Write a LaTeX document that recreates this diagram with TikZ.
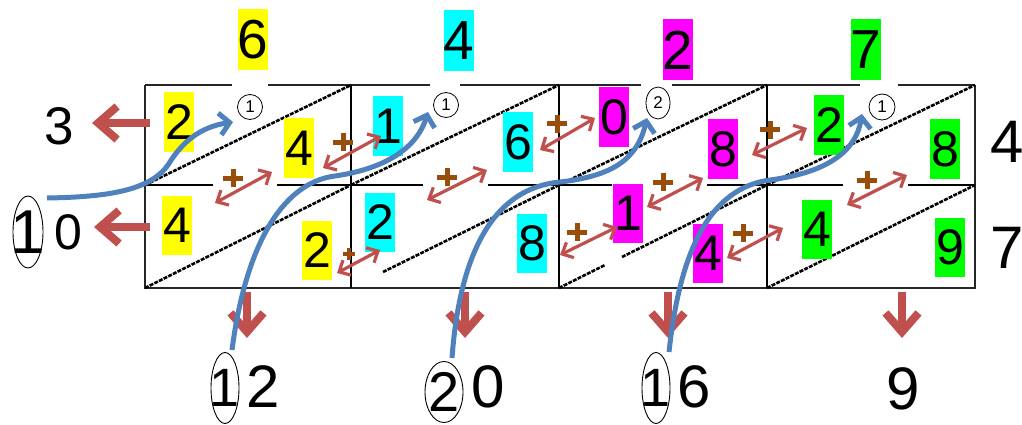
\documentclass[tikz,border=0pt]{standalone}
\usepackage{fontspec}
\setmainfont{Liberation Sans}
\usetikzlibrary{arrows.meta,shapes.geometric}
\definecolor{redc}{RGB}{192,80,77}
\definecolor{bluec}{RGB}{79,129,189}
\definecolor{plusc}{RGB}{153,77,10}
\definecolor{ylw}{RGB}{255,255,0}
\definecolor{cyn}{RGB}{0,255,255}
\definecolor{mgt}{RGB}{255,0,255}
\definecolor{grn}{RGB}{0,255,0}
\begin{document}
\begin{tikzpicture}[x=1pt,y=-1pt,
  cbox/.style={minimum width=30pt, minimum height=59pt, inner sep=0pt, font=\fontsize{50}{50}\selectfont},
  tbox/.style={cbox, minimum height=61pt, font=\fontsize{55}{55}\selectfont},
  lbl/.style={inner sep=0pt, font=\fontsize{53}{53}\selectfont},
  blbl/.style={inner sep=0pt, font=\fontsize{60}{60}\selectfont},
  edge/.style={line width=2.2pt, black!85},
  gridline/.style={line width=1.5pt},
  diag/.style={line width=2.6pt, dash pattern=on 4pt off 1.2pt},
  dbl/.style={redc, line width=3.2pt, {Straight Barb[length=9pt,width=17pt]}-{Straight Barb[length=9pt,width=17pt]}},
  plus/.style={plusc, line width=5pt},
  bigred/.style={redc, line width=8pt, -{Straight Barb[length=19pt,width=33pt]}},
  bluearr/.style={bluec, line width=5pt, -{Straight Barb[length=10pt,width=22pt]}},
  smallc/.style={draw, line width=0.8pt, fill=white, inner sep=0pt, font=\fontsize{17}{17}\selectfont},
  bigell/.style={draw, ellipse, line width=0.9pt, inner sep=0pt},
  ]
\useasboundingbox (0,0) rectangle (1022,425);
% grid
\draw[edge] (145,85) -- (145,288) -- (975,288) -- (975,85);
\foreach \a/\b in {145/232, 268/430, 460/641, 672/860, 898/975} \draw[edge] (\a,85) -- (\b,85);
\foreach \x in {351,559,767} \draw[gridline] (\x,85) -- (\x,288);
\foreach \a/\b in {145/213, 277/423, 488/612, 707/843, 908/975} \draw[gridline] (\a,185) -- (\b,185);
% diagonals
\draw[diag] (145,185) -- (351,85);
\draw[diag] (351,185) -- (559,85);
\draw[diag] (559,185) -- (767,85);
\draw[diag] (767,185) -- (975,85);
\draw[diag] (145,288) -- (351,185);
\draw[diag] (383,272) -- (559,185);
\draw[diag] (559,288) -- (605,265);
\draw[diag] (622,257) -- (767,185);
\draw[diag] (767,288) -- (975,185);
% top digits
\node[tbox, fill=ylw] (t1) at (253,40) {6};
\node[tbox, fill=cyn] (t2) at (459,41) {4};
\node[tbox, fill=mgt] (t3) at (678,50) {2};
\node[tbox, fill=grn] (t4) at (866,50) {7};
% cell digits
\node[cbox, fill=ylw] (a1) at (179,122) {2};
\node[cbox, fill=ylw] (a2) at (299,148) {4};
\node[cbox, fill=ylw] (a3) at (177,225) {4};
\node[cbox, fill=ylw] (a4) at (317,250) {2};
\node[cbox, fill=cyn] (b1) at (388,126) {1};
\node[cbox, fill=cyn] (b2) at (518,142) {6};
\node[cbox, fill=cyn] (b3) at (380,222) {2};
\node[cbox, fill=cyn] (b4) at (532,243) {8};
\node[cbox, fill=mgt] (c1) at (614,117) {0};
\node[cbox, fill=mgt] (c2) at (723,149) {8};
\node[cbox, fill=mgt] (c3) at (628,213) {1};
\node[cbox, fill=mgt] (c4) at (708,253) {4};
\node[cbox, fill=grn] (d1) at (829,125) {2};
\node[cbox, fill=grn] (d2) at (945,149) {8};
\node[cbox, fill=grn] (d3) at (817,229) {4};
\node[cbox, fill=grn] (d4) at (950,247) {9};
% small circled carries
\node[smallc, circle, minimum size=25pt] (k1) at (250,107) {1};
\node[smallc, circle, minimum size=25pt] (k2) at (446,105) {1};
\node[smallc, ellipse, minimum width=24pt, minimum height=32pt] (k3) at (658,103) {\makebox[0pt]{2}};
\node[smallc, circle, minimum size=26pt] (k4) at (882,107) {1};
% outside labels
\node[lbl] (l3) at (59,126) {3};
\node[bigell, minimum width=30pt, minimum height=72pt, font=\fontsize{62}{62}\selectfont] (e0) at (28,232) {\makebox[0pt]{1}};
\node[inner sep=0pt, font=\fontsize{50}{50}\selectfont] (l0) at (68,232) {0};
\node[blbl] (r4) at (1007,142) {4};
\node[blbl] (r7) at (1007,248) {7};
\node[bigell, minimum width=28pt, minimum height=71pt, font=\fontsize{54}{54}\selectfont] (e1) at (225,388) {\makebox[0pt]{1}};
\node[blbl] (n2) at (263,387) {2};
\node[bigell, minimum width=38pt, minimum height=61pt, font=\fontsize{56}{56}\selectfont] (e2) at (444,392) {\makebox[0pt]{2}};
\node[blbl] (n0) at (488,387) {0};
\node[bigell, minimum width=28pt, minimum height=71pt, font=\fontsize{54}{54}\selectfont] (e3) at (656,388) {\makebox[0pt]{1}};
\node[blbl] (n6) at (694,387) {6};
\node[blbl] (n9) at (903,389) {9};
% double arrows
\foreach \i/\ax/\ay/\bx/\by in {1/215/203/272/172, 2/323/168/381/136, 3/337/273/380/250, 4/427/200/487/170, 5/540/150/595/118, 6/560/255/617/227, 7/647/207/703/178, 8/752/155/807/128, 9/727/258/783/228, 10/847/205/907/175}{
  \coordinate (p\i a) at (\ax,\ay);
  \coordinate (p\i b) at (\bx,\by);
  \draw[dbl] (p\i a) -- (p\i b);
}
% plus signs
\foreach \px/\py in {233/178, 343/142, 447/177, 557/124, 577/232, 663/182, 770/130, 743/233, 867/180}
  \draw[plus] (\px-10,\py) -- (\px+10,\py) (\px,\py-9) -- (\px,\py+9);
\draw[plus, line width=3.5pt] (343,254) -- (355,254) (349,248) -- (349,260);
% red arrows
\coordinate (ra1) at (150,123); \coordinate (ra1e) at (92,123);
\coordinate (ra2) at (150,227); \coordinate (ra2e) at (94,227);
\draw[bigred] (ra1) -- (ra1e);
\draw[bigred] (ra2) -- (ra2e);
\foreach \i/\x in {1/247, 2/465, 3/668, 4/902}{
  \coordinate (rd\i) at (\x,292);
  \coordinate (rd\i e) at (\x,338);
  \draw[bigred] (rd\i) -- (rd\i e);
}
% blue carry curves
\coordinate (bs1) at (47,198); \coordinate (be1) at (233,122);
\coordinate (bs2) at (232,350); \coordinate (be2) at (428,112);
\coordinate (bs3) at (452,358); \coordinate (be3) at (647,118);
\coordinate (bs4) at (669,352); \coordinate (be4) at (862,114);
\draw[bluearr] (bs1) .. controls (110,197) and (150,190) .. (168,165) .. controls (182,142) and (200,127) .. (be1);
\draw[bluearr] (bs2) .. controls (245,250) and (280,183) .. (335,176) .. controls (390,168) and (418,145) .. (be2);
\draw[bluearr] (bs3) .. controls (460,250) and (495,188) .. (560,182) .. controls (612,176) and (637,160) .. (be3);
\draw[bluearr] (bs4) .. controls (680,250) and (710,188) .. (770,180) .. controls (830,172) and (856,150) .. (be4);
\end{tikzpicture}
\end{document}
